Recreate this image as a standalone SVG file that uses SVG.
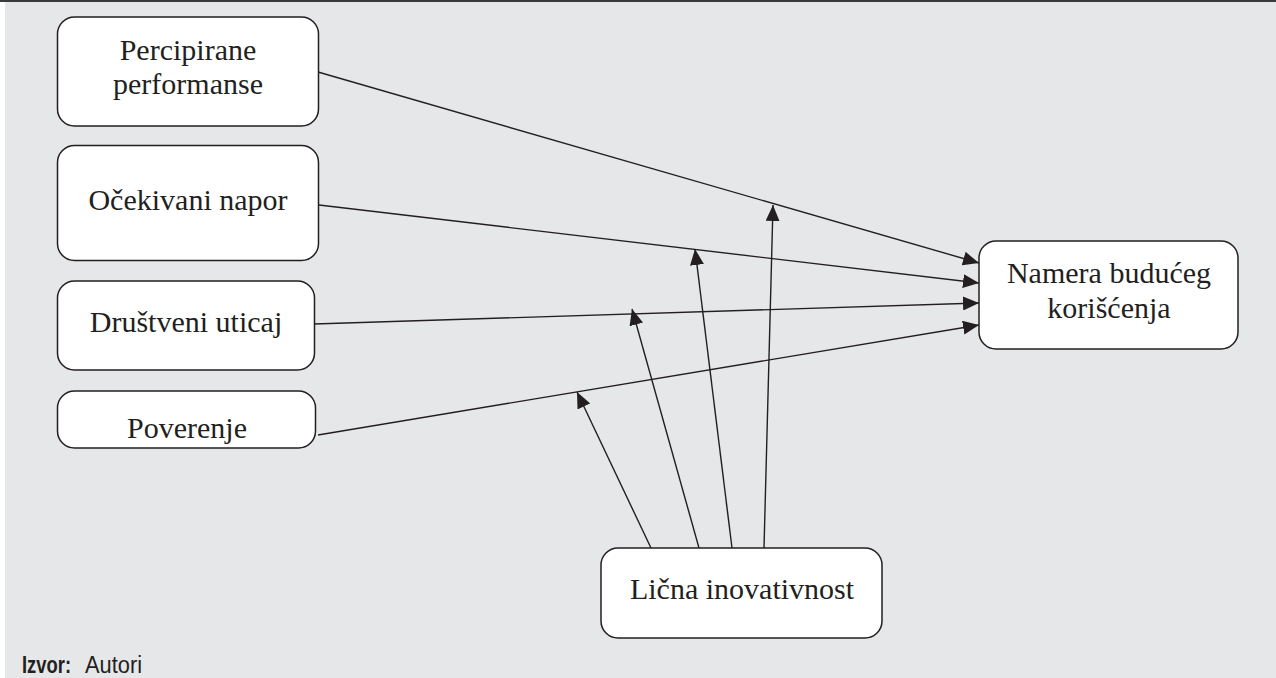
<svg xmlns="http://www.w3.org/2000/svg" width="1276" height="678" viewBox="0 0 1276 678">
<defs>
<style>
.box{fill:#ffffff;stroke:#231f20;stroke-width:1.5}
.lbl{font-family:"Liberation Serif","Times New Roman",serif;font-size:30px;fill:#231f20;text-anchor:middle}
.edge{fill:none;stroke:#231f20;stroke-width:1.4}
.src{font-family:"Liberation Sans",Arial,sans-serif;font-size:23px;fill:#231f20}
</style>
<marker id="arr" viewBox="0 0 16 14" refX="16" refY="7" markerWidth="16" markerHeight="14" markerUnits="userSpaceOnUse" orient="auto">
<path d="M0,0 L16,7 L0,14 Z" fill="#231f20"/>
</marker>
</defs>
<rect x="0" y="0" width="1276" height="678" fill="#ffffff"/>
<rect x="5" y="0" width="1271" height="678" fill="#e6e7e8"/>
<rect x="0" y="0" width="1276" height="2" fill="#3a3a3a"/>

<g id="connectors">
<line class="edge" x1="318" y1="72" x2="979" y2="263" marker-end="url(#arr)"/>
<line class="edge" x1="319" y1="205" x2="979" y2="283" marker-end="url(#arr)"/>
<line class="edge" x1="314" y1="324" x2="979" y2="303" marker-end="url(#arr)"/>
<line class="edge" x1="318" y1="435" x2="979" y2="325" marker-end="url(#arr)"/>
<line class="edge" x1="651" y1="548" x2="577" y2="392" marker-end="url(#arr)"/>
<line class="edge" x1="699" y1="548" x2="632" y2="309" marker-end="url(#arr)"/>
<line class="edge" x1="732" y1="548" x2="695" y2="249" marker-end="url(#arr)"/>
<line class="edge" x1="764" y1="548" x2="773" y2="205" marker-end="url(#arr)"/>
</g>

<g id="node-percipirane">
<rect class="box" x="57.5" y="17" width="261" height="109" rx="17"/>
<text class="lbl" x="188" y="60">Percipirane</text>
<text class="lbl" x="188" y="94">performanse</text>
</g>
<g id="node-ocekivani">
<rect class="box" x="57.5" y="145.5" width="261" height="115" rx="17"/>
<text class="lbl" x="188" y="210">Očekivani napor</text>
</g>
<g id="node-drustveni">
<rect class="box" x="57.5" y="281" width="257" height="89" rx="17"/>
<text class="lbl" x="186" y="332">Društveni uticaj</text>
</g>
<g id="node-poverenje">
<rect class="box" x="57.5" y="391" width="258" height="57" rx="17"/>
<text class="lbl" x="187" y="438">Poverenje</text>
</g>
<g id="node-namera">
<rect class="box" x="979" y="241" width="259" height="108" rx="17"/>
<text class="lbl" x="1109" y="283">Namera budućeg</text>
<text class="lbl" x="1109" y="318">korišćenja</text>
</g>
<g id="node-licna">
<rect class="box" x="601" y="548" width="281" height="90" rx="17"/>
<text class="lbl" x="742" y="599">Lična inovativnost</text>
</g>

<g id="source">
<text class="src" x="22" y="673" font-weight="bold" textLength="49" lengthAdjust="spacingAndGlyphs">Izvor:</text>
<text class="src" x="85" y="673" textLength="57" lengthAdjust="spacingAndGlyphs">Autori</text>
</g>
</svg>
